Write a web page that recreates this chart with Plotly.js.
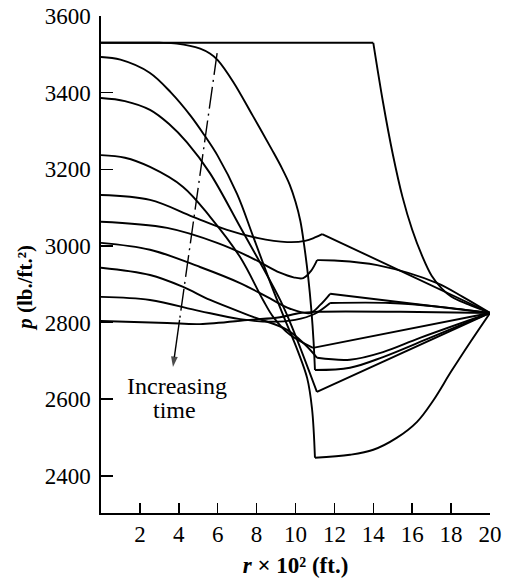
<!DOCTYPE html>
<html>
<head>
<meta charset="utf-8">
<script src="https://cdn.plot.ly/plotly-3.0.1.min.js"></script>
<style>html,body{margin:0;padding:0;background:#fff}#chart{width:505px;height:578px}</style>
</head>
<body>
<div id="chart"></div>
<script>
// r x 10^2 (ft.) and p (lb./ft.^2) for each time level; null separates a sharp corner
const rA = [0, 14, null, 14, 14.5, 15, 15.5, 16, 16.5, 17, 17.5, 18, 18.5, 19, 20];
const pA = [3530, 3530, null, 3530, 3375, 3240, 3128, 3042, 2975, 2922, 2890, 2868, 2855, 2845, 2825];

const rB = [0, 2, 3, 3.9, 5.1, 5.6, 6.0, 6.8, 7.8, 8.8, 9.3, 9.7, 10.0, 10.25, 10.45, 10.65, 10.82, 10.93, 11.0, null, 11.0, 12.8, 14.5, 17, 20];
const pB = [3530, 3530, 3530, 3528, 3515, 3502, 3485, 3428, 3340, 3250, 3203, 3160, 3115, 3065, 3000, 2920, 2830, 2750, 2676, null, 2676, 2682, 2710, 2762, 2825];

const rC = [0, 1, 2.5, 3.6, 4.6, 5.3, 6.0, 7.0, 7.82, 8.7, 9.4, 10.1, 10.6, 10.85, 11.0, null, 11.0, 12.8, 14.0, 15.2, 16.25, 17.1, 18, 19, 20];
const pC = [3493, 3486, 3452, 3400, 3340, 3290, 3235, 3135, 3025, 2905, 2815, 2728, 2655, 2575, 2447, null, 2447, 2455, 2468, 2499, 2541, 2598, 2672, 2750, 2825];

const rD = [0, 1.23, 2.52, 3.5, 4.42, 5.6, 7.15, 9.21, 9.88, 11.1, null, 11.1, 20];
const pD = [3386, 3378, 3355, 3318, 3270, 3190, 3050, 2859, 2781, 2619, null, 2619, 2825];

const rE = [0, 1.23, 2.52, 4.22, 5.61, 7.15, 8.33, 8.85, 9.72, 10.9, null, 10.9, 20];
const pE = [3237, 3230, 3206, 3154, 3076, 2971, 2859, 2815, 2768, 2734, null, 2734, 2825];

const rF = [0, 2.52, 4.73, 6.48, 8.02, 9.57, 10.49, 11.0, 11.37, null, 11.37, 20];
const pF = [3133, 3120, 3076, 3042, 3021, 3010, 3013, 3022, 3031, null, 3031, 2825];

const rG = [0, 3.4, 5.97, 7.66, 9.2, 9.9, 10.4, 10.8, 11.11, null, 11.11, 12, 14.2, 17.28, 18.6, 20];
const pG = [3063, 3047, 3008, 2971, 2930, 2918, 2916, 2935, 2963, null, 2963, 2962, 2950, 2903, 2867, 2825];

const rH = [0, 2.52, 5.09, 7.15, 8.54, 9.72, 10.75, 11.27, 11.78, null, 11.78, 20];
const pH = [3008, 2990, 2945, 2903, 2867, 2836, 2825, 2846, 2875, null, 2875, 2825];

const rI = [0, 2.52, 4.22, 5.61, 7.82, 9.57, 10.5, 11.11, null, 11.11, 12.8, 14.5, 16.4, 20];
const pI = [2943, 2924, 2893, 2859, 2815, 2781, 2742, 2708, null, 2708, 2703, 2723, 2760, 2825];

const rJ = [0, 2.52, 5.09, 7.15, 8.69, 9.98, 11.0, 11.78, null, 11.78, 14.87, 17.44, 20];
const pJ = [2867, 2859, 2830, 2809, 2802, 2807, 2823, 2851, null, 2851, 2851, 2841, 2825];

const rK = [0, 3.4, 5.09, 7.66, 9.2, 10.24, 11.11, 15.4, 20];
const pK = [2804, 2799, 2796, 2807, 2814, 2825, 2828, 2828, 2825];

// "Increasing time" arrow: tail, start of solid stem, head
const arrowR = [5.97, 4.04, 3.70];
const arrowP = [3503, 2807, 2684];

const xTicks = [2, 4, 6, 8, 10, 12, 14, 16, 18, 20];
const yTicks = [2400, 2600, 2800, 3000, 3200, 3400, 3600];

const series = [[rA,pA],[rB,pB],[rC,pC],[rD,pD],[rE,pE],[rF,pF],[rG,pG],[rH,pH],[rI,pI],[rJ,pJ],[rK,pK]];
const traces = series.map(s => ({
  x: s[0], y: s[1], type: 'scatter', mode: 'lines', connectgaps: false,
  line: {color: '#000', width: 1.9, shape: 'spline', smoothing: 1.0},
  hoverinfo: 'skip', showlegend: false, cliponaxis: false
}));
traces.push({
  x: arrowR.slice(0, 2), y: arrowP.slice(0, 2), type: 'scatter', mode: 'lines',
  line: {color: '#000', width: 1.4, dash: '22px,5px,2px,5px'},
  hoverinfo: 'skip', showlegend: false
});
traces.push({
  x: arrowR.slice(1), y: arrowP.slice(1), type: 'scatter', mode: 'lines+markers',
  line: {color: '#000', width: 1.4},
  marker: {symbol: 'arrow', size: [0, 11], angleref: 'previous', color: '#000', line: {width: 0}},
  hoverinfo: 'skip', showlegend: false, cliponaxis: false
});

const serif = 'Liberation Serif, Times New Roman, serif';
const layout = {
  width: 505, height: 578,
  margin: {l: 101, r: 15, t: 16, b: 65},
  paper_bgcolor: '#fff', plot_bgcolor: '#fff',
  showlegend: false,
  font: {family: serif, color: '#000', size: 22},
  xaxis: {
    range: [0, 20], tickvals: xTicks, ticktext: xTicks.map(String),
    ticks: 'inside', ticklen: 10, tickwidth: 1.5, tickcolor: '#000',
    showline: true, linewidth: 1.6, linecolor: '#000', mirror: false,
    showgrid: false, zeroline: false,
    tickfont: {family: serif, size: 23, color: '#000'},
    title: {text: '<i>r</i> × 10² (ft.)', font: {family: serif, size: 23, color: '#000', weight: 'bold'}, standoff: 12}
  },
  yaxis: {
    range: [2303, 3600], tickvals: yTicks, ticktext: yTicks.map(String),
    ticks: 'inside', ticklen: 12, tickwidth: 1.5, tickcolor: '#000',
    showline: true, linewidth: 1.6, linecolor: '#000', mirror: false,
    showgrid: false, zeroline: false, ticklabelstandoff: 4,
    tickfont: {family: serif, size: 23, color: '#000'}
  },
  annotations: [
    {x: -0.196, y: 2890, xref: 'paper', yref: 'y', text: '<i>p</i> (lb./ft.²)', textangle: -90,
     showarrow: false, xanchor: 'center', yanchor: 'middle',
     font: {family: serif, size: 21, color: '#000', weight: 'bold'}},
    {x: 3.9, y: 2635, xref: 'x', yref: 'y', text: 'Increasing', showarrow: false,
     font: {family: serif, size: 24, color: '#000'}},
    {x: 3.8, y: 2572, xref: 'x', yref: 'y', text: 'time', showarrow: false,
     font: {family: serif, size: 24, color: '#000'}}
  ]
};

Plotly.newPlot('chart', traces, layout, {staticPlot: true, displayModeBar: false});
</script>
</body>
</html>
